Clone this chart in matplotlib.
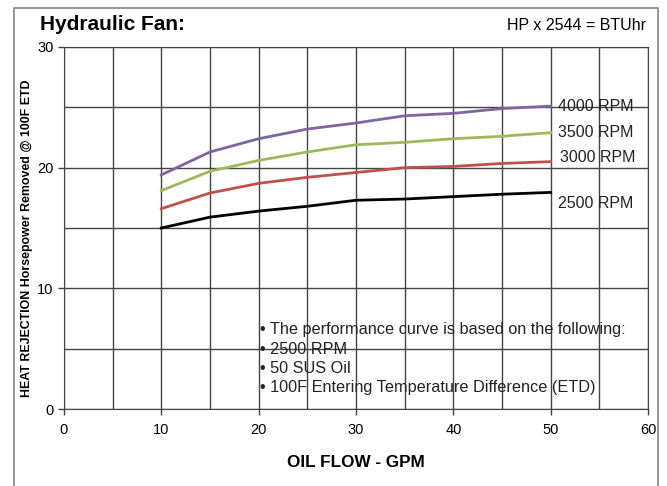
import matplotlib
matplotlib.use("Agg")
import matplotlib.pyplot as plt
from matplotlib.patches import Rectangle

plt.rcParams['font.family'] = ['Liberation Sans', 'DejaVu Sans']

flow = [10, 15, 20, 25, 30, 35, 40, 45, 50]
rpm4000 = [19.4, 21.3, 22.4, 23.2, 23.7, 24.3, 24.5, 24.9, 25.1]
rpm3500 = [18.1, 19.7, 20.6, 21.3, 21.9, 22.1, 22.4, 22.6, 22.9]
rpm3000 = [16.6, 17.9, 18.7, 19.2, 19.6, 20.0, 20.1, 20.35, 20.5]
rpm2500 = [15.0, 15.9, 16.4, 16.8, 17.3, 17.4, 17.6, 17.8, 17.95]
series_labels = ["4000 RPM", "3500 RPM", "3000 RPM", "2500 RPM"]
colors = ["#8064A2", "#9BBB59", "#C0504D", "#000000"]
label_offsets = [(5, 0), (5, 0), (7, 3.3), (5, -8)]
notes = ["• The performance curve is based on the following:",
         "• 2500 RPM", "• 50 SUS Oil",
         "• 100F Entering Temperature Difference (ETD)"]

fig = plt.figure(figsize=(6.67, 4.86), dpi=100)
fig.patches.append(Rectangle((14/667, -0.1), (658-14)/667, 1.1 - 8/486,
                             transform=fig.transFigure, fill=False,
                             edgecolor="#888888", linewidth=1.2))
ax = fig.add_axes([64/667, 1-409/486, (648-64)/667, (409-47)/486])

for vals, c, lab, off in zip([rpm4000, rpm3500, rpm3000, rpm2500], colors,
                             series_labels, label_offsets):
    ax.plot(flow, vals, color=c, linewidth=2, zorder=3)
    ax.annotate(lab, xy=(flow[-1], vals[-1]), xytext=off,
                textcoords="offset points", va="center", ha="left",
                fontsize=11.5, color="#222222")

ax.set_xlim(0, 60)
ax.set_ylim(0, 30)
ax.set_xticks(range(0, 61, 10))
ax.set_yticks(range(0, 31, 10))
ax.set_xticks(range(0, 61, 5), minor=True)
ax.set_yticks(range(0, 31, 5), minor=True)
ax.grid(which="both", color="#444444", linewidth=1)
ax.tick_params(which="minor", length=0)
ax.tick_params(which="major", length=4, width=1, labelsize=10.5, color="#444444")
ax.tick_params(axis="x", which="major", pad=6)
ax.set_axisbelow(True)
for s in ax.spines.values():
    s.set_color("#444444")

ax.set_xlabel("OIL FLOW - GPM", fontsize=12.3, fontweight="bold", labelpad=13)
ax.set_ylabel("HEAT REJECTION Horsepower Removed @ 100F ETD", fontsize=8.9,
              fontweight="bold", va="center", ha="center")
ax.yaxis.set_label_coords(-0.064, 0.472)

fig.text(40/667, 1-25/486, "Hydraulic Fan:", fontsize=15, fontweight="bold",
         va="center", ha="left")
fig.text(646/667, 1-25/486, "HP x 2544 = BTUhr", fontsize=11.5,
         va="center", ha="right")

for i, line in enumerate(notes):
    ax.text(20.1, 6.55 - i * 1.6, line, fontsize=11.7, va="center", ha="left",
            color="#222222")

fig.savefig("out.png", dpi=100)
